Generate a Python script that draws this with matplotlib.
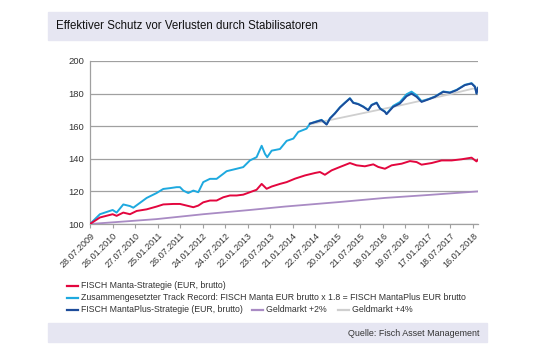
import pandas as pd
import matplotlib.pyplot as plt
from matplotlib.lines import Line2D
from matplotlib.patches import Rectangle

plt.rcParams['font.family'] = ['Liberation Sans', 'DejaVu Sans']

# FISCH Manta-Strategie (rot)
manta_dates = ['2009-07-28', '2009-10-16', '2010-01-27', '2010-02-28', '2010-04-23', '2010-06-16',
               '2010-08-09', '2010-10-29', '2011-01-17', '2011-03-12', '2011-06-01', '2011-07-25',
               '2011-09-17', '2011-11-10', '2011-12-20', '2012-01-29', '2012-03-23', '2012-05-16',
               '2012-07-09', '2012-09-01', '2012-10-25', '2012-12-17', '2013-02-09', '2013-04-04',
               '2013-05-15', '2013-06-24', '2013-08-04', '2013-10-10', '2013-12-03', '2014-02-08',
               '2014-04-30', '2014-07-20', '2014-08-29', '2014-10-08', '2014-12-01', '2015-02-07',
               '2015-04-28', '2015-06-21', '2015-08-27', '2015-11-03', '2015-12-13', '2016-02-05',
               '2016-03-30', '2016-06-19', '2016-08-25', '2016-10-18', '2016-11-27', '2017-02-16',
               '2017-05-08', '2017-07-28', '2017-10-16', '2018-01-05', '2018-02-14', '2018-02-26']
manta_vals = [100, 104, 106, 105, 107, 106,
              108, 109, 110.7, 112, 112.3, 112.3,
              111.3, 110.3, 111.3, 113.3, 114.4, 114.4,
              116.4, 117.5, 117.5, 118, 119.5, 121,
              124.6, 121.6, 123, 124.6, 125.7, 127.8,
              129.8, 131.3, 131.9, 130.2, 132.9, 135,
              137.4, 136, 135.4, 136.6, 135, 133.9,
              136, 137, 138.6, 138, 136.4, 137.4,
              139, 139, 139.7, 140.7, 138.4, 139.5]

# Zusammengesetzter Track Record (hellblau)
track_dates = ['2009-07-28', '2009-10-16', '2010-01-27', '2010-02-28', '2010-04-23', '2010-06-16',
               '2010-07-13', '2010-09-05', '2010-10-29', '2011-01-17', '2011-03-12', '2011-05-05',
               '2011-06-28', '2011-07-25', '2011-08-21', '2011-09-30', '2011-11-10', '2011-12-20',
               '2012-01-29', '2012-03-23', '2012-05-16', '2012-07-09', '2012-08-05', '2012-10-25',
               '2012-12-17', '2013-02-09', '2013-04-04', '2013-05-15', '2013-06-11', '2013-06-29',
               '2013-08-04', '2013-10-10', '2013-12-03', '2014-01-26', '2014-03-07', '2014-05-13',
               '2014-06-09', '2014-07-25', '2014-09-11', '2014-10-22', '2014-11-18', '2014-12-28',
               '2015-02-07', '2015-03-19', '2015-04-28', '2015-05-25', '2015-07-04', '2015-08-14',
               '2015-09-23', '2015-10-20', '2015-11-30', '2015-12-27', '2016-02-05', '2016-02-18',
               '2016-04-12', '2016-06-05', '2016-07-29', '2016-09-07', '2016-10-18', '2016-11-27',
               '2017-01-20', '2017-03-15', '2017-05-21', '2017-07-14', '2017-09-06', '2017-11-12',
               '2018-01-05', '2018-02-01', '2018-02-14', '2018-02-26']
track_vals = [100, 106, 108.6, 107, 112, 111,
              110, 113, 116, 119, 121.5, 122,
              122.6, 122.6, 120.5, 119, 120.5, 119.5,
              125.7, 127.7, 127.7, 130.8, 132.4, 133.9,
              134.9, 139, 141, 148, 143, 141,
              145, 146, 151, 152.4, 156.5, 158.5,
              161.6, 162.8, 163.9, 161.2, 164.9, 168,
              171.7, 174.5, 177.2, 174.5, 173.7, 172.1,
              170, 173.1, 174.5, 171, 169, 167.6,
              172.5, 174.8, 179.6, 181.2, 179, 175.3,
              176.6, 178.2, 181.3, 180.7, 182.3, 185.4,
              186.4, 184.4, 180.2, 183.6]

# FISCH MantaPlus-Strategie (dunkelblau)
plus_dates = ['2014-06-09', '2014-07-25', '2014-09-11', '2014-10-22', '2014-11-18', '2014-12-28',
              '2015-02-07', '2015-03-19', '2015-04-28', '2015-05-25', '2015-07-04', '2015-08-14',
              '2015-09-23', '2015-10-20', '2015-11-30', '2015-12-27', '2016-02-05', '2016-02-18',
              '2016-04-12', '2016-06-05', '2016-07-29', '2016-09-07', '2016-10-18', '2016-11-27',
              '2017-01-20', '2017-03-15', '2017-05-21', '2017-07-14', '2017-09-06', '2017-11-12',
              '2018-01-05', '2018-02-01', '2018-02-14', '2018-02-26']
plus_vals = [161.6, 162.6, 163.7, 161, 164.7, 167.8,
             171.5, 174.3, 177, 174.3, 173.5, 171.9,
             169.8, 172.9, 174.3, 170.8, 168.8, 167.4,
             171.9, 173.9, 178.4, 180, 178, 174.9,
             176.4, 178, 181.1, 180.5, 182.1, 185.2,
             186.2, 184.2, 180, 183.4]

# Geldmarkt +2% (lila)
gm2_dates = ['2009-07-28', '2011-01-17', '2012-01-29', '2013-02-09', '2013-11-19',
             '2015-02-05', '2016-02-05', '2017-01-20', '2018-02-26']
gm2_vals = [100, 103, 106, 108.6, 110.7, 113.5, 116, 117.8, 120]

# Geldmarkt +4% (grau)
gm4_dates = ['2014-06-09', '2015-06-09', '2016-06-09', '2017-06-09', '2018-02-26']
gm4_vals = [161.2, 167, 172.8, 179, 183.8]

tick_labels = ['28.07.2009', '26.01.2010', '27.07.2010', '25.01.2011', '26.07.2011', '24.01.2012',
               '24.07.2012', '22.01.2013', '23.07.2013', '21.01.2014', '22.07.2014', '20.01.2015',
               '21.07.2015', '19.01.2016', '19.07.2016', '17.01.2017', '18.07.2017', '16.01.2018']

c_red = '#e3063e'
c_light = '#1ea9df'
c_dark = '#1d4c9a'
c_purple = '#a98bc4'
c_grey = '#cfcfcf'
band = '#e6e6f2'

fig = plt.figure(figsize=(5.5, 3.5), dpi=100)
W, H = 550, 350

def fx(px):
    return px / W

def fy(py):
    return 1 - py / H

# Bänder oben und unten
fig.patches.append(Rectangle((fx(48), fy(40)), fx(487) - fx(48), fy(12) - fy(40),
                             transform=fig.transFigure, color=band, zorder=0))
fig.patches.append(Rectangle((fx(48), fy(342)), fx(487) - fx(48), fy(323) - fy(342),
                             transform=fig.transFigure, color=band, zorder=0))
fig.text(fx(56), fy(26), 'Effektiver Schutz vor Verlusten durch Stabilisatoren',
         fontsize=8.3, va='center', ha='left', color='#111111')
fig.text(fx(480), fy(333), 'Quelle: Fisch Asset Management',
         fontsize=6.4, va='center', ha='right', color='#333333')

ax = fig.add_axes([fx(90), fy(224), fx(478) - fx(90), fy(61) - fy(224)])
td = pd.to_datetime
ax.plot(td(gm2_dates), gm2_vals, color=c_purple, lw=1.3, zorder=3)
ax.plot(td(gm4_dates), gm4_vals, color=c_grey, lw=1.3, zorder=3)
ax.plot(td(track_dates), track_vals, color=c_light, lw=1.4, zorder=4)
ax.plot(td(plus_dates), plus_vals, color=c_dark, lw=1.4, zorder=5)
ax.plot(td(manta_dates), manta_vals, color=c_red, lw=1.4, zorder=4)

ax.set_ylim(100, 200)
ax.set_yticks([100, 120, 140, 160, 180, 200])
ax.set_xlim(td('2009-07-28'), td('2018-02-26'))
ax.set_xticks(td(tick_labels, format='%d.%m.%Y'))
ax.set_xticklabels(tick_labels, rotation=45, ha='right', rotation_mode='anchor')
ax.grid(axis='y', color='#a0a0a0', lw=0.9)
ax.set_axisbelow(True)
for s in ['top', 'right']:
    ax.spines[s].set_visible(False)
for s in ['left', 'bottom']:
    ax.spines[s].set_color('#a0a0a0')
    ax.spines[s].set_linewidth(0.9)
ax.tick_params(axis='y', length=0, labelsize=6.8, labelcolor='#333333', pad=4)
ax.tick_params(axis='x', length=3, color='#a0a0a0', labelsize=6.5, labelcolor='#333333', pad=2)

# Legende
entries = [
    (67, 286, c_red, 'FISCH Manta-Strategie (EUR, brutto)'),
    (67, 298, c_light, 'Zusammengesetzter Track Record: FISCH Manta EUR brutto x 1.8 = FISCH MantaPlus EUR brutto'),
    (67, 310, c_dark, 'FISCH MantaPlus-Strategie (EUR, brutto)'),
    (252, 310, c_purple, 'Geldmarkt +2%'),
    (338, 310, c_grey, 'Geldmarkt +4%'),
]
for x0, y0, col, lab in entries:
    fig.lines.append(Line2D([fx(x0), fx(x0 + 11)], [fy(y0), fy(y0)], color=col, lw=1.6,
                            transform=fig.transFigure))
    fig.text(fx(x0 + 14), fy(y0), lab, fontsize=6.3, va='center', ha='left', color='#333333')

fig.savefig('out.png', dpi=100)
